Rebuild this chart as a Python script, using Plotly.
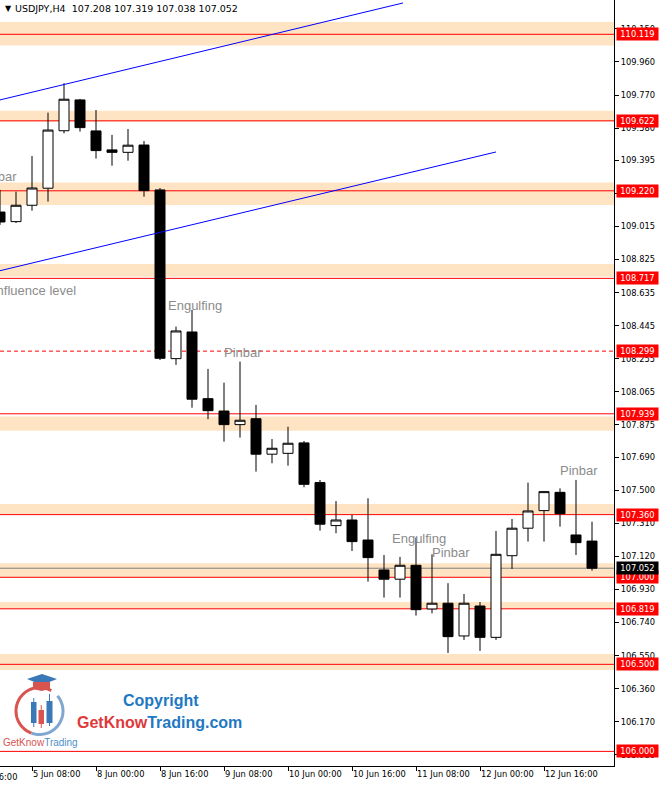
import math
import plotly.graph_objects as go

# ---------------- data ----------------
times = ["5 Jun 00:00", "5 Jun 04:00", "5 Jun 08:00", "5 Jun 12:00", "5 Jun 16:00", "5 Jun 20:00",
         "8 Jun 00:00", "8 Jun 04:00", "8 Jun 08:00", "8 Jun 12:00", "8 Jun 16:00", "8 Jun 20:00",
         "9 Jun 00:00", "9 Jun 04:00", "9 Jun 08:00", "9 Jun 12:00", "9 Jun 16:00", "9 Jun 20:00",
         "10 Jun 00:00", "10 Jun 04:00", "10 Jun 08:00", "10 Jun 12:00", "10 Jun 16:00", "10 Jun 20:00",
         "11 Jun 00:00", "11 Jun 04:00", "11 Jun 08:00", "11 Jun 12:00", "11 Jun 16:00", "11 Jun 20:00",
         "12 Jun 00:00", "12 Jun 04:00", "12 Jun 08:00", "12 Jun 12:00", "12 Jun 16:00", "12 Jun 20:00",
         "15 Jun 00:00", "15 Jun 04:00"]
opens = [109.098, 109.043, 109.137, 109.235, 109.565, 109.742, 109.564, 109.455, 109.441, 109.483,
         109.225, 108.256, 108.409, 108.026, 107.955, 107.877, 107.911, 107.707, 107.712, 107.772,
         107.544, 107.297, 107.329, 107.214, 107.042, 106.989, 107.069, 106.818, 106.851, 106.663,
         106.835, 106.655, 107.124, 107.282, 107.383, 107.488, 107.243, 107.208]
highs = [109.225, 109.215, 109.420, 109.669, 109.838, 109.748, 109.684, 109.541, 109.575, 109.506,
         109.236, 108.440, 108.536, 108.197, 108.118, 108.239, 107.990, 107.794, 107.865, 107.783,
         107.559, 107.438, 107.358, 107.454, 107.128, 107.117, 107.228, 107.132, 106.966, 106.904,
         106.858, 107.266, 107.335, 107.544, 107.496, 107.511, 107.559, 107.319]
lows = [109.024, 109.035, 109.106, 109.158, 109.550, 109.560, 109.405, 109.364, 109.393, 109.186,
        108.248, 108.220, 107.974, 107.908, 107.779, 107.802, 107.607, 107.655, 107.641, 107.517,
        107.268, 107.253, 107.151, 106.975, 106.883, 106.883, 106.780, 106.793, 106.565, 106.640,
        106.577, 106.640, 107.048, 107.205, 107.205, 107.291, 107.128, 107.038]
closes = [109.041, 109.137, 109.236, 109.569, 109.746, 109.583, 109.451, 109.441, 109.482, 109.221,
          108.258, 108.415, 108.023, 107.957, 107.877, 107.902, 107.707, 107.741, 107.770, 107.534,
          107.305, 107.329, 107.205, 107.113, 106.989, 107.069, 106.814, 106.851, 106.659, 106.851,
          106.655, 107.132, 107.282, 107.381, 107.492, 107.365, 107.199, 107.052]

xtick_index = [2, 6, 10, 14, 18, 22, 26, 30, 34]
xtick_labels = [times[i] for i in xtick_index]
ytick_values = [110.150, 109.960, 109.770, 109.580, 109.395, 109.205, 109.015, 108.825, 108.635,
                108.445, 108.255, 108.065, 107.875, 107.690, 107.500, 107.310, 107.120, 106.930,
                106.740, 106.550, 106.360, 106.170, 105.980]
ytick_labels = ["%.3f" % v for v in ytick_values]

level_prices = [110.119, 109.622, 109.220, 108.717, 107.939, 107.360, 107.000, 106.819, 106.500, 106.000]
dashed_level = 108.299
current_price = 107.052
zone_low = [110.054, 109.617, 109.139, 108.727, 107.842, 107.364, 107.000, 106.820, 106.468]
zone_high = [110.190, 109.680, 109.267, 108.800, 107.923, 107.421, 107.081, 106.858, 106.560]

channel_upper_x = [0, 25.19]
channel_upper_y = [109.742, 110.299]
channel_lower_x = [0, 31.0]
channel_lower_y = [108.761, 109.443]

note_texts = ["Pinbar", "Confluence level", "Engulfing", "Pinbar", "Engulfing", "Pinbar", "Pinbar"]
note_x = [1.19, 4.875, 10.375, 13.875, 24.375, 26.875, 34.875]
note_y = [109.305, 108.645, 108.564, 108.294, 107.220, 107.145, 107.611]
note_anchor = ["right", "right", "left", "left", "left", "left", "left"]

header_text = "USDJPY,H4  107.208 107.319 107.038 107.052"

# ---------------- figure ----------------
W, H = 659, 785
ML, MR, MT, MB = 0, 45, 0, 19
PW, PH = W - ML - MR, H - MT - MB
Y_MIN, Y_MAX = 105.916, 110.316
X_MIN, X_MAX = 0, 38.375

AX_FONT = dict(family="DejaVu Sans", size=8.3, color="black")
ZONE = "#FFE4C4"


def px(x):
    return x / PW


def py(y):
    return (PH - y) / PH


fig = go.Figure()
fig.add_trace(go.Candlestick(
    x=list(range(len(times))), open=opens, high=highs, low=lows, close=closes,
    increasing=dict(line=dict(color="black", width=1), fillcolor="white"),
    decreasing=dict(line=dict(color="black", width=1), fillcolor="black"),
    whiskerwidth=0, showlegend=False, hoverinfo="skip",
))

shapes = []
for lo, hi in zip(zone_low, zone_high):
    shapes.append(dict(type="rect", xref="paper", yref="y", x0=0, x1=1, y0=lo, y1=hi,
                       fillcolor=ZONE, line=dict(width=0), layer="below"))
for p in level_prices:
    shapes.append(dict(type="line", xref="paper", yref="y", x0=0, x1=1, y0=p, y1=p,
                       line=dict(color="#FF0000", width=1), layer="below"))
shapes.append(dict(type="line", xref="paper", yref="y", x0=0, x1=1, y0=dashed_level, y1=dashed_level,
                   line=dict(color="#FF0000", width=1, dash="4px,3px"), layer="below"))
shapes.append(dict(type="line", xref="paper", yref="y", x0=0, x1=1, y0=current_price, y1=current_price,
                   line=dict(color="#808080", width=1), layer="below"))
shapes.append(dict(type="line", xref="x", yref="y", x0=channel_upper_x[0], x1=channel_upper_x[1],
                   y0=channel_upper_y[0], y1=channel_upper_y[1], line=dict(color="#0000FF", width=1)))
shapes.append(dict(type="line", xref="x", yref="y", x0=channel_lower_x[0], x1=channel_lower_x[1],
                   y0=channel_lower_y[0], y1=channel_lower_y[1], line=dict(color="#0000FF", width=1)))


# ---- logo (decoration) ----
def path_from(points, close=True):
    s = "M " + " L ".join("%.5f,%.5f" % (px(a), py(b)) for a, b in points)
    return s + (" Z" if close else "")


def arc(cx, cy, r, a0, a1, n=40):
    return [(cx + r * math.cos(math.radians(a0 + (a1 - a0) * i / n)),
             cy - r * math.sin(math.radians(a0 + (a1 - a0) * i / n))) for i in range(n + 1)]


cx, cy, r = 39.5, 711, 23.5
shapes.append(dict(type="path", xref="paper", yref="paper", path=path_from(arc(cx, cy, r, 60, 250), False),
                   line=dict(color="#D9534F", width=3)))
shapes.append(dict(type="path", xref="paper", yref="paper", path=path_from(arc(cx, cy, r, 250, 400), False),
                   line=dict(color="#7FA7CF", width=3)))
# cap
shapes.append(dict(type="path", xref="paper", yref="paper",
                   path=path_from([(27, 679), (42, 674), (57, 679), (42, 685)]),
                   fillcolor="#3B78B8", line=dict(width=0)))
shapes.append(dict(type="path", xref="paper", yref="paper",
                   path=path_from([(33, 682), (50, 682), (50, 689), (41.5, 691), (33, 689)]),
                   fillcolor="#D9534F", line=dict(width=0)))
# mini candles
for (x0, x1, b0, b1, w0, w1, col) in [(31, 36.5, 702, 723, 698, 727, "#3B78B8"),
                                      (38.5, 44, 710, 724, 705, 728, "#D9534F"),
                                      (46.5, 52.5, 701, 723, 694, 726, "#3B78B8")]:
    xm = (x0 + x1) / 2
    shapes.append(dict(type="line", xref="paper", yref="paper", x0=px(xm), x1=px(xm), y0=py(w0), y1=py(w1),
                       line=dict(color=col, width=1)))
    shapes.append(dict(type="rect", xref="paper", yref="paper", x0=px(x0), x1=px(x1), y0=py(b0), y1=py(b1),
                       fillcolor=col, line=dict(width=0)))

annotations = []
for t, x, y, a in zip(note_texts, note_x, note_y, note_anchor):
    annotations.append(dict(text=t, x=x, y=y, xref="x", yref="y", xanchor=a, yanchor="middle",
                            showarrow=False, font=dict(family="Liberation Sans", size=13, color="#8C8C8C")))

for p in level_prices:
    annotations.append(dict(text="%.3f" % p, x=1, y=p, xref="paper", yref="y", xanchor="left",
                            yanchor="middle", xshift=2, showarrow=False, bgcolor="#FF0000",
                            width=39, height=10, borderpad=1, align="center",
                            font=dict(family="DejaVu Sans", size=8.3, color="white")))
annotations.append(dict(text="%.3f" % dashed_level, x=1, y=dashed_level, xref="paper", yref="y",
                        xanchor="left", yanchor="middle", xshift=2, showarrow=False, bgcolor="#FF0000",
                        width=39, height=10, borderpad=1, align="center",
                        font=dict(family="DejaVu Sans", size=8.3, color="white")))
annotations.append(dict(text="%.3f" % current_price, x=1, y=current_price, xref="paper", yref="y",
                        xanchor="left", yanchor="middle", xshift=2, showarrow=False, bgcolor="#000000",
                        width=39, height=10, borderpad=1, align="center",
                        font=dict(family="DejaVu Sans", size=8.3, color="white")))

# header
annotations.append(dict(text="▼", x=px(3), y=py(8), xref="paper", yref="paper", xanchor="left",
                        yanchor="middle", showarrow=False, font=dict(family="DejaVu Sans", size=8, color="black")))
annotations.append(dict(text=header_text, x=px(13), y=py(8), xref="paper", yref="paper", xanchor="left",
                        yanchor="middle", showarrow=False, font=dict(family="DejaVu Sans", size=9.5, color="black")))
# clipped first x label
annotations.append(dict(text="4 Jun 16:00", x=px(-32), y=0, xref="paper", yref="paper", xanchor="left",
                        yanchor="top", yshift=-4, showarrow=False, font=AX_FONT))

# logo texts
annotations.append(dict(text="<b>Copyright</b>", x=px(121), y=py(700), xref="paper", yref="paper",
                        xanchor="left", yanchor="middle", showarrow=False,
                        font=dict(family="Liberation Sans", size=16, color="#1E78C2")))
annotations.append(dict(text="<b><span style='color:#E0393B'>GetKnow</span>Trading.com</b>",
                        x=px(75), y=py(722), xref="paper", yref="paper",
                        xanchor="left", yanchor="middle", showarrow=False,
                        font=dict(family="Liberation Sans", size=16, color="#1E78C2")))
annotations.append(dict(text="<span style='color:#D9534F'>GetKnow</span>Trading",
                        x=px(1), y=py(742), xref="paper", yref="paper",
                        xanchor="left", yanchor="middle", showarrow=False,
                        font=dict(family="Liberation Sans", size=10, color="#4F8FC6")))

fig.update_layout(
    width=W, height=H,
    margin=dict(l=ML, r=MR, t=MT, b=MB, pad=0, autoexpand=False),
    paper_bgcolor="white", plot_bgcolor="white",
    showlegend=False,
    boxgap=0.375, boxgroupgap=0,
    shapes=shapes, annotations=annotations,
    xaxis=dict(range=[X_MIN, X_MAX], type="linear", rangeslider=dict(visible=False),
               showgrid=False, zeroline=False, showline=True, linecolor="black", linewidth=1,
               ticks="outside", ticklen=4, tickcolor="black", tickwidth=1,
               tickvals=xtick_index, ticktext=xtick_labels, tickfont=AX_FONT,
               ticklabelposition="outside right", fixedrange=True, automargin=False),
    yaxis=dict(range=[Y_MIN, Y_MAX], side="right", showgrid=False, zeroline=False,
               showline=True, linecolor="black", linewidth=1,
               ticks="outside", ticklen=4, tickcolor="black", tickwidth=1,
               tickvals=ytick_values, ticktext=ytick_labels, tickfont=AX_FONT, fixedrange=True,
               automargin=False),
)

fig.write_html("out.html", config={"displayModeBar": False},
               post_script="document.body.style.margin='0';document.body.style.overflow='hidden';")
